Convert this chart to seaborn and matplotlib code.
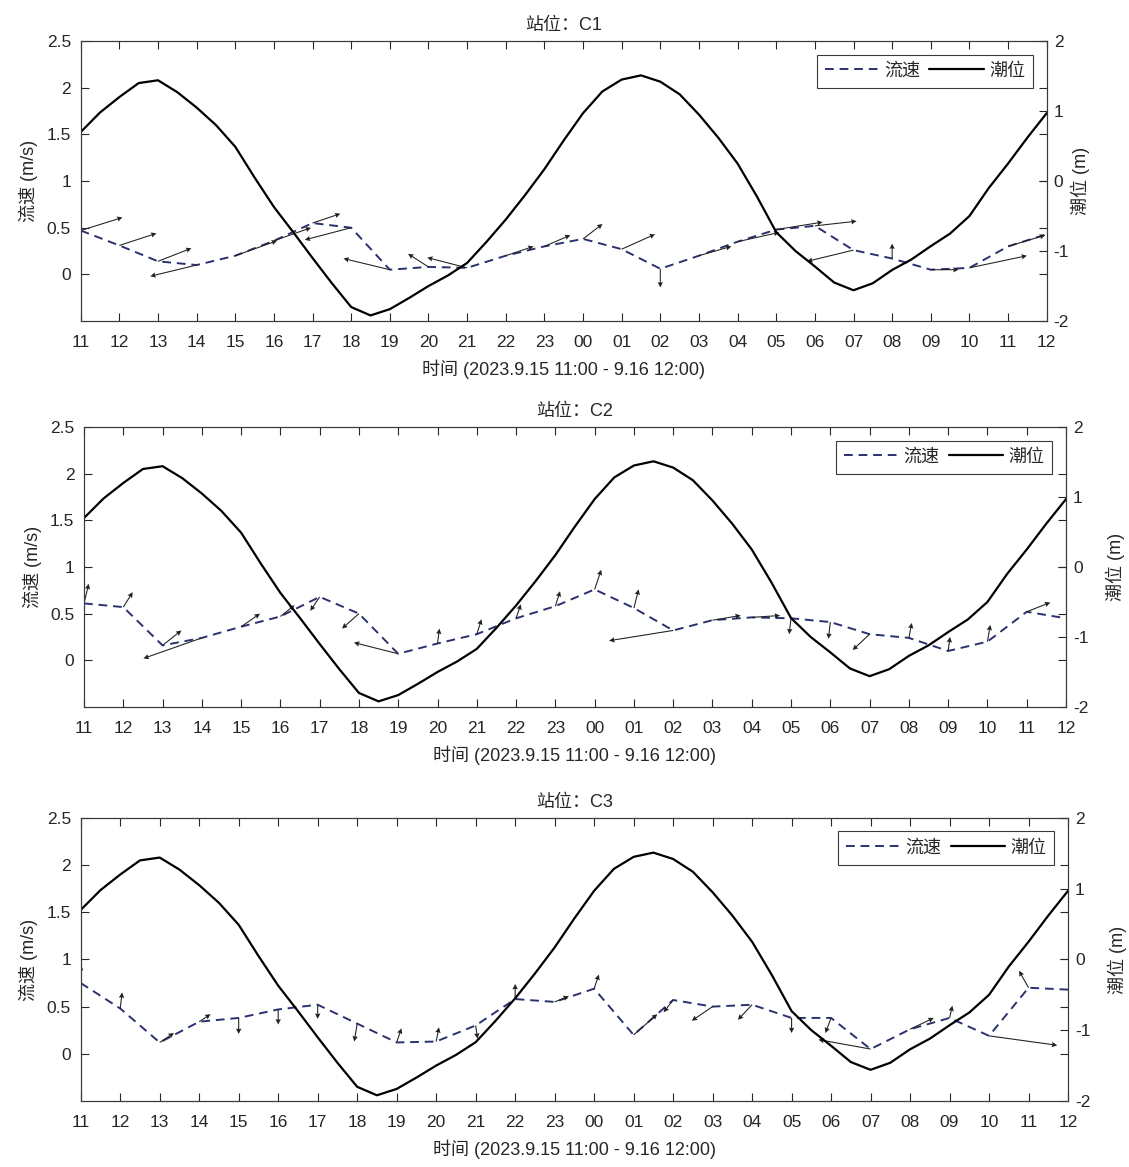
import numpy as np
import pandas as pd
import matplotlib
matplotlib.use("Agg")
import matplotlib.pyplot as plt
import seaborn as sns
from matplotlib.lines import Line2D

# time axis: hours since 2023-09-15 11:00
hours = list(range(26))
hour_labels = ["11", "12", "13", "14", "15", "16", "17", "18", "19", "20", "21", "22", "23",
               "00", "01", "02", "03", "04", "05", "06", "07", "08", "09", "10", "11", "12"]

# tide level (m), half-hourly
tide_time = np.arange(0, 25.5, 0.5)
tide_level = [0.70, 0.98, 1.20, 1.40, 1.44, 1.27, 1.05, 0.80, 0.49, 0.05,
              -0.37, -0.73, -1.10, -1.46, -1.80, -1.92, -1.83, -1.67, -1.50, -1.35,
              -1.17, -0.87, -0.55, -0.20, 0.17, 0.58, 0.97, 1.28, 1.45, 1.51,
              1.42, 1.24, 0.95, 0.62, 0.25, -0.22, -0.73, -1.00, -1.22, -1.45,
              -1.56, -1.46, -1.27, -1.12, -0.93, -0.75, -0.50, -0.10, 0.25, 0.62, 0.97]

stations = ["C1", "C2", "C3"]

# current speed (m/s), hourly
speed_c1 = [0.47, 0.31, 0.14, 0.10, 0.20, 0.36, 0.55, 0.50, 0.05, 0.08, 0.07, 0.20, 0.30,
            0.38, 0.27, 0.06, 0.20, 0.35, 0.48, 0.52, 0.26, 0.17, 0.05, 0.07, 0.30, 0.43]
speed_c2 = [0.61, 0.57, 0.16, 0.24, 0.36, 0.47, 0.68, 0.50, 0.07, 0.18, 0.28, 0.45, 0.58,
            0.76, 0.56, 0.32, 0.43, 0.46, 0.45, 0.41, 0.28, 0.24, 0.10, 0.20, 0.52, 0.45]
speed_c3 = [0.75, 0.48, 0.12, 0.34, 0.38, 0.47, 0.52, 0.32, 0.12, 0.13, 0.30, 0.58, 0.55,
            0.69, 0.20, 0.57, 0.50, 0.52, 0.38, 0.38, 0.05, 0.26, 0.38, 0.19, 0.70, 0.68]

# current vector components (east, north), used for the direction arrows
east_c1 = [0.45, 0.40, 0.36, -0.50, 0.45, 0.40, 0.30, -0.50, -0.50, -0.22, -0.43, 0.30, 0.28,
           0.21, 0.36, 0.00, 0.35, 0.45, 0.50, 0.45, -0.50, 0.00, 0.30, 0.62, 0.40, 0.00]
north_c1 = [0.14, 0.13, 0.14, -0.12, 0.16, 0.14, 0.10, -0.13, 0.12, 0.14, 0.11, 0.10, 0.12,
            0.16, 0.16, -0.20, 0.10, 0.10, 0.08, 0.05, -0.12, 0.16, 0.00, 0.13, 0.12, 0.00]
east_c2 = [0.05, 0.10, 0.20, -0.62, 0.20, 0.15, -0.10, -0.18, -0.47, 0.02, 0.05, 0.05, 0.05,
           0.07, 0.05, -0.68, 0.30, 0.30, -0.02, -0.02, -0.18, 0.03, 0.02, 0.03, 0.25, 0.00]
north_c2 = [0.21, 0.16, 0.16, -0.22, 0.14, 0.12, -0.15, -0.16, 0.12, 0.16, 0.16, 0.15, 0.16,
            0.21, 0.20, -0.11, 0.05, 0.02, -0.17, -0.18, -0.17, 0.16, 0.15, 0.18, 0.10, 0.00]
east_c3 = [0.00, 0.02, 0.15, 0.12, 0.00, 0.00, 0.00, -0.03, 0.05, 0.03, 0.02, 0.00, 0.15,
           0.05, 0.25, -0.10, -0.22, -0.15, 0.00, -0.06, -0.55, 0.25, 0.03, 0.72, -0.10, 0.00]
north_c3 = [0.19, 0.17, 0.10, 0.08, -0.17, -0.16, -0.15, -0.19, 0.15, 0.15, -0.14, 0.16, 0.06,
            0.15, 0.22, -0.13, -0.15, -0.16, -0.16, -0.16, 0.10, 0.12, 0.13, -0.10, 0.18, 0.00]

speeds = [speed_c1, speed_c2, speed_c3]
easts = [east_c1, east_c2, east_c3]
norths = [north_c1, north_c2, north_c3]

sns.set_theme(style="ticks")
plt.rcParams["font.family"] = ["Liberation Sans", "Noto Sans CJK SC", "DejaVu Sans"]
plt.rcParams["axes.unicode_minus"] = False

speed_color = "#2a3170"
frame_color = "#3a3a3a"

fig = plt.figure(figsize=(11.29, 11.67), dpi=100)
positions = [
    [0.0715, 0.7249, 0.8556, 0.2399],
    [0.0744, 0.3942, 0.8698, 0.2399],
    [0.0715, 0.0566, 0.8745, 0.2425],
]
right_pads = [1, 12, 12]

for i, st in enumerate(stations):
    ax = fig.add_axes(positions[i])
    ax2 = ax.twinx()

    df = pd.DataFrame({"t": hours, "speed": speeds[i],
                       "u": easts[i], "v": norths[i]})
    tide_df = pd.DataFrame({"t": tide_time, "level": tide_level})

    sns.lineplot(data=df, x="t", y="speed", ax=ax, color=speed_color,
                 lw=1.4, linestyle=(0, (4.5, 3)))
    # direction arrows (east component stretched to the hour scale)
    ax.quiver(df["t"], df["speed"], df["u"] * 2.4, df["v"],
              angles="xy", scale_units="xy", scale=1, color="#222222",
              width=0.0011, headwidth=5, headlength=5, headaxislength=4.5,
              minlength=0, zorder=3)

    sns.lineplot(data=tide_df, x="t", y="level", ax=ax2, color="black", lw=1.6)

    ax.set_xlim(0, 25)
    ax.set_ylim(-0.5, 2.5)
    ax.set_yticks([0, 0.5, 1, 1.5, 2, 2.5])
    ax.set_yticklabels(["0", "0.5", "1", "1.5", "2", "2.5"])
    ax.set_xticks(hours)
    ax.set_xticklabels(hour_labels)
    ax2.set_ylim(-2, 2)
    ax2.set_yticks([-2, -1, 0, 1, 2])
    ax2.set_yticklabels(["-2", "-1", "0", "1", "2"])

    ax.tick_params(direction="in", length=6, width=0.8, top=True, right=True,
                   labelsize=12.5, colors="#262626", pad=7)
    ax.tick_params(axis="x", pad=10)
    ax2.tick_params(direction="in", length=6, width=0.8, labelsize=12.5,
                    colors="#262626", pad=5)
    for a in (ax, ax2):
        for sp in a.spines.values():
            sp.set_color(frame_color)
            sp.set_linewidth(0.8)

    ax.set_xlabel("时间 (2023.9.15 11:00 - 9.16 12:00)", fontsize=13, labelpad=7)
    ax.set_ylabel("流速 (m/s)", fontsize=13, labelpad=6)
    ax2.set_ylabel("潮位 (m)", fontsize=13, labelpad=right_pads[i])
    ax.set_title("站位：" + st, fontsize=13, pad=8)

    handles = [Line2D([], [], color=speed_color, lw=1.4, linestyle=(0, (4.5, 3))),
               Line2D([], [], color="black", lw=1.6)]
    leg = ax2.legend(handles, ["流速", "潮位"], loc="upper right", ncol=2,
                     fontsize=13, frameon=True, fancybox=False, framealpha=1,
                     edgecolor=frame_color, handlelength=3.0, handletextpad=0.3,
                     columnspacing=0.5, borderpad=0.45, borderaxespad=0.75)
    leg.get_frame().set_linewidth(0.8)

fig.savefig("out.png", dpi=100)
